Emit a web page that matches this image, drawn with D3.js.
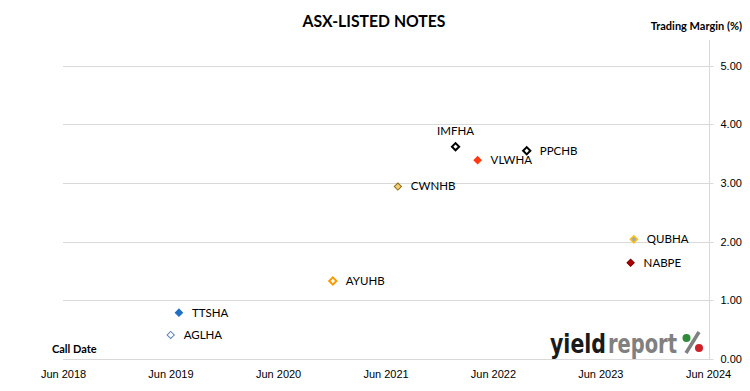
<!DOCTYPE html>
<html>
<head>
<meta charset="utf-8">
<script src="https://cdn.jsdelivr.net/npm/d3@7"></script>
<style>
  html, body { margin: 0; padding: 0; background: #fff; }
  svg { display: block; font-family: Lato, "Open Sans", sans-serif; }
</style>
</head>
<body>
<div id="chart"></div>
<script>
// notas listadas en ASX: fecha de call y margen de trading
const codes = ["IMFHA", "PPCHB", "VLWHA", "CWNHB", "QUBHA", "NABPE", "AYUHB", "TTSHA", "AGLHA"];
const callDates = ["2022-01-25", "2022-09-24", "2022-04-10", "2021-07-13", "2023-09-23",
                   "2023-09-12", "2020-12-04", "2019-06-30", "2019-06-02"];
const margins = [3.62, 3.55, 3.39, 2.94, 2.04, 1.64, 1.33, 0.79, 0.41];
const yTicks = [0, 1, 2, 3, 4, 5];
const xTickLabels = ["2018-06-01", "2019-06-01", "2020-06-01", "2021-06-01",
                     "2022-06-01", "2023-06-01", "2024-06-01"];

// estilos de cada marcador
const markerStyle = {
    IMFHA: { fill: "#fff", stroke: "#000", sw: 2 },
    PPCHB: { fill: "#fff", stroke: "#000", sw: 2 },
    VLWHA: { fill: "#ff3a10", stroke: "#ff3a10", sw: 1 },
    CWNHB: { fill: "#f2cf74", stroke: "#8c6d14", sw: 1 },
    QUBHA: { fill: "#a8a8a8", stroke: "#ffc21a", sw: 1.5 },
    NABPE: { fill: "#b30000", stroke: "#7a0000", sw: 1 },
    AYUHB: { fill: "#fff", stroke: "#ff9a00", sw: 2 },
    TTSHA: { fill: "#1f6fc4", stroke: "#1f6fc4", sw: 1 },
    AGLHA: { fill: "#fff", stroke: "#5b82b8", sw: 1 }
};
// IMFHA lleva la etiqueta encima
const labelAbove = ["IMFHA"];

const parse = d3.timeParse("%Y-%m-%d");
const data = codes.map((c, i) => ({ code: c, date: parse(callDates[i]), margin: margins[i] }));

const width = 750, height = 391;
const svg = d3.select("#chart").append("svg")
    .attr("width", width)
    .attr("height", height);

const x = d3.scaleTime()
    .domain([parse(xTickLabels[0]), parse(xTickLabels[xTickLabels.length - 1])])
    .range([63, 708]);

const y = d3.scaleLinear()
    .domain([0, 5])
    .range([359, 65.7]);

// lineas de la grilla
svg.append("g")
    .selectAll("line")
    .data(yTicks)
    .enter()
    .append("line")
    .attr("x1", 63)
    .attr("x2", 709)
    .attr("y1", d => Math.round(y(d)) + 0.5)
    .attr("y2", d => Math.round(y(d)) + 0.5)
    .attr("stroke", "#d9d9d9")
    .attr("stroke-width", 1);

// eje vertical a la derecha
const yAxis = svg.append("g")
    .attr("transform", "translate(709.5,0.5)")
    .call(d3.axisRight(y).tickValues(yTicks).tickSize(4).tickPadding(7).tickFormat(d3.format(".2f")));
yAxis.select(".domain").remove();
yAxis.selectAll(".tick").attr("transform", d => `translate(0,${Math.round(y(d))})`);
yAxis.selectAll(".tick line").attr("stroke", "#d9d9d9");
yAxis.selectAll("text").style("font-size", "11px").attr("fill", "#000");

svg.append("line")
    .attr("x1", 709.5).attr("x2", 709.5)
    .attr("y1", 40).attr("y2", 360)
    .attr("stroke", "#d9d9d9");

// eje de fechas
const xAxis = svg.append("g")
    .attr("transform", "translate(0,359)")
    .call(d3.axisBottom(x)
        .tickValues(xTickLabels.map(parse))
        .tickSize(0)
        .tickPadding(11)
        .tickFormat(d3.timeFormat("%b %Y")));
xAxis.select(".domain").remove();
xAxis.selectAll("text").style("font-size", "11px").attr("fill", "#000");

// marcadores
const diamond = d3.symbol().type(d3.symbolSquare).size(26);
svg.append("g")
    .selectAll("path")
    .data(data)
    .enter()
    .append("path")
    .attr("d", diamond)
    .attr("transform", d => `translate(${x(d.date)},${y(d.margin)}) rotate(45)`)
    .attr("fill", d => markerStyle[d.code].fill)
    .attr("stroke", d => markerStyle[d.code].stroke)
    .attr("stroke-width", d => markerStyle[d.code].sw);

// etiquetas
svg.append("g")
    .selectAll("text")
    .data(data)
    .enter()
    .append("text")
    .attr("x", d => labelAbove.includes(d.code) ? x(d.date) : x(d.date) + 13)
    .attr("y", d => labelAbove.includes(d.code) ? y(d.margin) - 15 : y(d.margin) + 1)
    .attr("text-anchor", d => labelAbove.includes(d.code) ? "middle" : "start")
    .attr("dominant-baseline", "middle")
    .style("font-size", "11.5px")
    .attr("fill", "#000")
    .text(d => d.code);

// titulo y rotulos
svg.append("text")
    .attr("x", 374)
    .attr("y", 27)
    .attr("text-anchor", "middle")
    .attr("textLength", 143)
    .attr("lengthAdjust", "spacingAndGlyphs")
    .style("font-size", "17px")
    .style("font-weight", "bold")
    .attr("fill", "#000")
    .text("ASX-LISTED NOTES");

svg.append("text")
    .attr("x", 742)
    .attr("y", 30)
    .attr("text-anchor", "end")
    .style("font-size", "11px")
    .style("font-weight", "bold")
    .attr("fill", "#000")
    .text("Trading Margin (%)");

svg.append("text")
    .attr("x", 52)
    .attr("y", 353)
    .style("font-size", "11px")
    .style("font-weight", "bold")
    .attr("fill", "#000")
    .text("Call Date");

// logo yieldreport %
const logo = svg.append("g").style("font-family", "'DejaVu Sans Condensed', 'DejaVu Sans', sans-serif")
    .style("font-weight", "bold").style("font-size", "26px");
logo.append("text")
    .attr("x", 550).attr("y", 353)
    .attr("textLength", 56).attr("lengthAdjust", "spacingAndGlyphs")
    .attr("fill", "#1a1a1a")
    .text("yield");
logo.append("text")
    .attr("x", 608).attr("y", 353)
    .attr("textLength", 69).attr("lengthAdjust", "spacingAndGlyphs")
    .attr("fill", "#808080")
    .text("report");
logo.append("line")
    .attr("x1", 699).attr("y1", 332)
    .attr("x2", 686).attr("y2", 353)
    .attr("stroke", "#808080").attr("stroke-width", 3.5);
logo.append("circle").attr("cx", 686.5).attr("cy", 338).attr("r", 4).attr("fill", "#2e8b3a");
logo.append("circle").attr("cx", 699).attr("cy", 348).attr("r", 4).attr("fill", "#d0202a");
</script>
</body>
</html>
